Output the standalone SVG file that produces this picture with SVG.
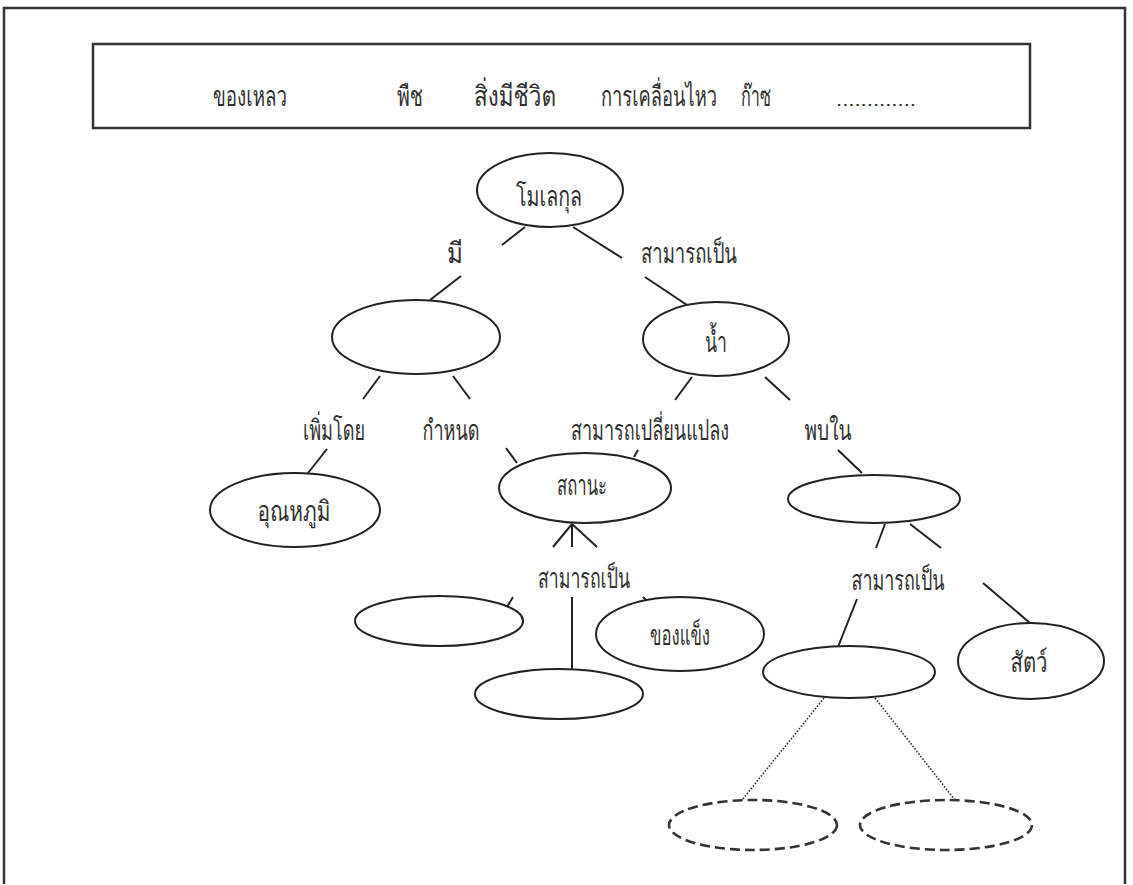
<svg xmlns="http://www.w3.org/2000/svg" width="1133" height="885" viewBox="0 0 1133 885">
  <style>
    .frame { fill: none; stroke: #333; stroke-width: 2.5; }
    .node { fill: #fff; stroke: #222; stroke-width: 2; }
    .blank { fill: #fff; stroke: #333; stroke-width: 2.6; stroke-dasharray: 10 5; }
    .link { fill: none; stroke: #222; stroke-width: 2; }
    .dots { fill: none; stroke: #333; stroke-width: 1.6; stroke-dasharray: 1.6 1.6; }
    text { font-family: "Loma", "Garuda", "Umpush", "Noto Sans Thai Looped", "Noto Sans Thai", "Tahoma", "DejaVu Sans", sans-serif; font-size: 28px; fill: #303030; text-anchor: middle; }
    text.fill-in { font-size: 20px; }
  </style>

  <!-- page frame -->
  <path class="frame" d="M4,884 V8 H1125 V884"/>

  <!-- word bank -->
  <g id="word-bank">
    <rect class="frame" x="93" y="44" width="937" height="84"/>
    <text x="250" y="106" textLength="74" lengthAdjust="spacingAndGlyphs">ของเหลว</text>
    <text x="410" y="106" textLength="26" lengthAdjust="spacingAndGlyphs">พืช</text>
    <text x="515" y="106" textLength="82" lengthAdjust="spacingAndGlyphs">สิ่งมีชีวิต</text>
    <text x="659" y="106" textLength="116" lengthAdjust="spacingAndGlyphs">การเคลื่อนไหว</text>
    <text x="756" y="106" textLength="30" lengthAdjust="spacingAndGlyphs">ก๊าซ</text>
    <text class="fill-in" x="876" y="106" textLength="80" lengthAdjust="spacingAndGlyphs">.............</text>
  </g>

  <!-- connectors and linking words -->
  <g id="connectors">
    <line class="link" x1="525" y1="227" x2="502" y2="245"/>
    <line class="link" x1="573" y1="227" x2="622" y2="258"/>
    <line class="link" x1="461" y1="276" x2="430" y2="300"/>
    <line class="link" x1="645" y1="277" x2="687" y2="305"/>
    <line class="link" x1="380" y1="376" x2="363" y2="399"/>
    <line class="link" x1="453" y1="376" x2="470" y2="399"/>
    <line class="link" x1="692" y1="377" x2="675" y2="400"/>
    <line class="link" x1="765" y1="377" x2="790" y2="400"/>
    <line class="link" x1="327" y1="449" x2="308" y2="473"/>
    <line class="link" x1="506" y1="448" x2="517" y2="463"/>
    <line class="link" x1="638" y1="450" x2="634" y2="457"/>
    <line class="link" x1="838" y1="450" x2="862" y2="473"/>
    <line class="link" x1="572" y1="524" x2="553" y2="547"/>
    <line class="link" x1="572" y1="524" x2="572" y2="547"/>
    <line class="link" x1="572" y1="524" x2="597" y2="547"/>
    <line class="link" x1="513" y1="597" x2="507" y2="607"/>
    <line class="link" x1="572" y1="597" x2="572" y2="671"/>
    <line class="link" x1="643" y1="597" x2="647" y2="601"/>
    <line class="link" x1="885" y1="524" x2="876" y2="548"/>
    <line class="link" x1="910" y1="524" x2="941" y2="548"/>
    <line class="link" x1="857" y1="599" x2="838" y2="647"/>
    <line class="link" x1="983" y1="583" x2="1030" y2="623"/>
    <line class="dots" x1="824" y1="698" x2="742" y2="800"/>
    <line class="dots" x1="875" y1="698" x2="955" y2="800"/>

    <text x="455" y="263" textLength="16" lengthAdjust="spacingAndGlyphs">มี</text>
    <text x="689" y="263" textLength="96" lengthAdjust="spacingAndGlyphs">สามารถเป็น</text>
    <text x="334" y="440" textLength="62" lengthAdjust="spacingAndGlyphs">เพิ่มโดย</text>
    <text x="451" y="440" textLength="57" lengthAdjust="spacingAndGlyphs">กำหนด</text>
    <text x="650" y="440" textLength="158" lengthAdjust="spacingAndGlyphs">สามารถเปลี่ยนแปลง</text>
    <text x="828" y="440" textLength="47" lengthAdjust="spacingAndGlyphs">พบใน</text>
    <text x="584" y="588" textLength="92" lengthAdjust="spacingAndGlyphs">สามารถเป็น</text>
    <text x="898" y="590" textLength="93" lengthAdjust="spacingAndGlyphs">สามารถเป็น</text>
  </g>

  <!-- concept nodes -->
  <g id="molecule">
    <ellipse class="node" cx="550" cy="190" rx="73" ry="37"/>
    <text x="549" y="206" textLength="66" lengthAdjust="spacingAndGlyphs">โมเลกุล</text>
  </g>
  <g id="property">
    <ellipse class="node" cx="416" cy="337" rx="84" ry="37"/>
  </g>
  <g id="water">
    <ellipse class="node" cx="716" cy="339" rx="73" ry="37"/>
    <text x="716" y="352" textLength="22" lengthAdjust="spacingAndGlyphs">น้ำ</text>
  </g>
  <g id="temperature">
    <ellipse class="node" cx="295" cy="510" rx="85" ry="37"/>
    <text x="294" y="521" textLength="73" lengthAdjust="spacingAndGlyphs">อุณหภูมิ</text>
  </g>
  <g id="state">
    <ellipse class="node" cx="585" cy="488" rx="86" ry="35"/>
    <text x="582" y="495" textLength="50" lengthAdjust="spacingAndGlyphs">สถานะ</text>
  </g>
  <g id="found-in">
    <ellipse class="node" cx="874" cy="499" rx="86" ry="24"/>
  </g>
  <g id="state-a">
    <ellipse class="node" cx="439" cy="621" rx="84" ry="25"/>
  </g>
  <g id="state-b">
    <ellipse class="node" cx="559" cy="694" rx="84" ry="25"/>
  </g>
  <g id="solid">
    <ellipse class="node" cx="680" cy="634" rx="84" ry="37"/>
    <text x="680" y="645" textLength="60" lengthAdjust="spacingAndGlyphs">ของแข็ง</text>
  </g>
  <g id="living-a">
    <ellipse class="node" cx="849" cy="672" rx="86" ry="26"/>
  </g>
  <g id="animal">
    <ellipse class="node" cx="1031" cy="661" rx="73" ry="38"/>
    <text x="1029" y="672" textLength="37" lengthAdjust="spacingAndGlyphs">สัตว์</text>
  </g>
  <g id="example-a">
    <ellipse class="blank" cx="753" cy="825" rx="84" ry="25"/>
  </g>
  <g id="example-b">
    <ellipse class="blank" cx="946" cy="825" rx="86" ry="25"/>
  </g>
</svg>
